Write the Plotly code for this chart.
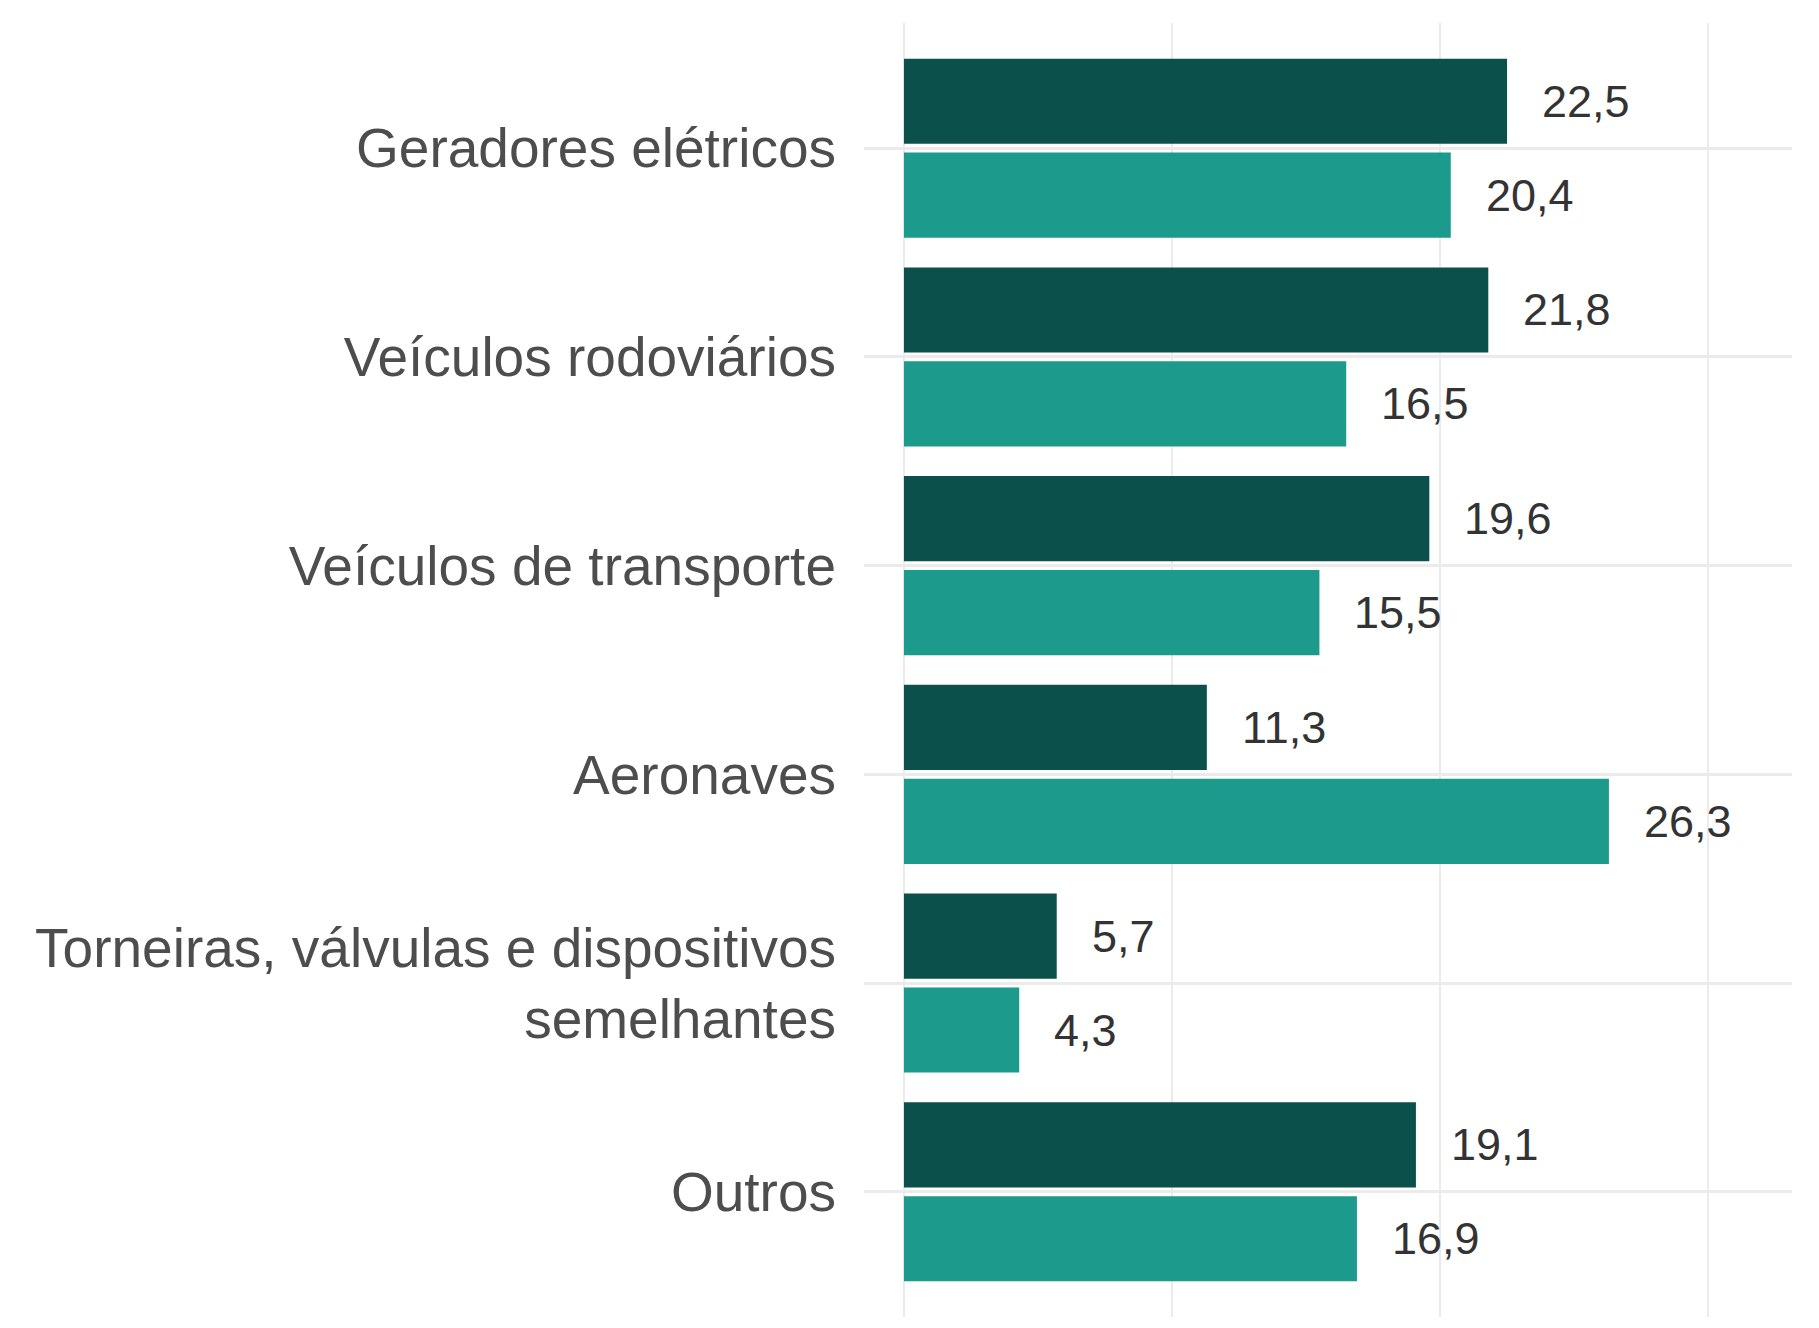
import plotly.graph_objects as go

categories = [
    "Geradores elétricos",
    "Veículos rodoviários",
    "Veículos de transporte",
    "Aeronaves",
    "Torneiras, válvulas e dispositivos semelhantes",
    "Outros",
]
tick_labels = [
    "Geradores elétricos",
    "Veículos rodoviários",
    "Veículos de transporte",
    "Aeronaves",
    "Torneiras, válvulas e dispositivos<br>semelhantes",
    "Outros",
]
series_dark = [22.5, 21.8, 19.6, 11.3, 5.7, 19.1]
series_light = [20.4, 16.5, 15.5, 26.3, 4.3, 16.9]

DARK = "#0c504b"
LIGHT = "#1c9a8b"
FONT = "Arial"


def fmt(v):
    return f"{v:.1f}".replace(".", ",")


fig = go.Figure()
fig.add_trace(go.Bar(y=categories, x=series_dark, orientation="h",
                     marker=dict(color=DARK, line=dict(width=0)),
                     name="Série 1", showlegend=False, hoverinfo="x+y"))
fig.add_trace(go.Bar(y=categories, x=series_light, orientation="h",
                     marker=dict(color=LIGHT, line=dict(width=0)),
                     name="Série 2", showlegend=False, hoverinfo="x+y"))

annotations = []
for i, (a, b) in enumerate(zip(series_dark, series_light)):
    annotations.append(dict(x=a, y=i - 0.225, xref="x", yref="y", text=fmt(a),
                            showarrow=False, xanchor="left", yanchor="middle",
                            xshift=33, font=dict(family=FONT, size=45, color="#333333")))
    annotations.append(dict(x=b, y=i + 0.225, xref="x", yref="y", text=fmt(b),
                            showarrow=False, xanchor="left", yanchor="middle",
                            xshift=33, font=dict(family=FONT, size=45, color="#333333")))

fig.update_layout(
    width=1811, height=1320,
    margin=dict(l=856, r=27, t=15, b=11, pad=0),
    paper_bgcolor="white", plot_bgcolor="white",
    barmode="group", bargap=0.1, bargroupgap=0.093,
    annotations=annotations,
    font=dict(family=FONT),
)
fig.update_xaxes(range=[-1.49, 33.13], tickvals=[0, 10, 20, 30], showticklabels=False,
                 showgrid=True, gridcolor="#ebebeb", gridwidth=2.2,
                 zeroline=False, showline=False, ticks="")
fig.update_yaxes(type="category", categoryorder="array", categoryarray=categories,
                 tickvals=categories, ticktext=tick_labels,
                 range=[5.6, -0.6], showgrid=True, gridcolor="#ebebeb", gridwidth=2.6,
                 zeroline=False, showline=False, ticks="", ticklabelstandoff=27,
                 tickfont=dict(family=FONT, size=55, color="#4d4d4d"))

fig.write_html("out.html")
